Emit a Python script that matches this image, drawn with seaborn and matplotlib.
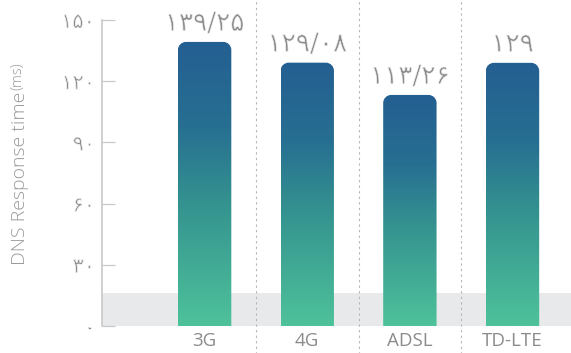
import numpy as np
import seaborn as sns
import matplotlib.pyplot as plt
import matplotlib.patheffects as pe
from matplotlib.path import Path
from matplotlib.patches import PathPatch
from matplotlib.colors import LinearSegmentedColormap

categories = ['3G', '4G', 'ADSL', 'TD-LTE']
response_ms = [139.25, 129.08, 113.26, 129.0]
value_labels = ['۱۳۹/۲۵', '۱۲۹/۰۸', '۱۱۳/۲۶', '۱۲۹']
y_ticks = [0, 30, 60, 90, 120, 150]
y_tick_labels = ['۰', '۳۰', '۶۰', '۹۰', '۱۲۰', '۱۵۰']
band_top = 16

GRAY = '#8c8c8c'
# thin the heavy DejaVu digits a bit
thin = [pe.Normal(), pe.Stroke(linewidth=0.5, foreground='white')]

sns.set_theme(style='white')
plt.rcParams['font.family'] = ['Open Sans', 'DejaVu Sans']

fig = plt.figure(figsize=(5.71, 3.53), dpi=100)
ax = fig.add_axes([102 / 571, 27 / 353, 1 - 102 / 571, 306 / 353])

sns.barplot(x=categories, y=response_ms, width=0.52, ax=ax)
ax.set_xlim(-1.0, 3.57)
ax.set_ylim(0, 150)

# gray band at the bottom
ax.axhspan(0, band_top, color='#e8e9eb', zorder=0, lw=0)

cmap = LinearSegmentedColormap.from_list(
    'bars', [(0, '#4ec29a'), (0.45, '#33908f'), (0.7, '#276f92'), (1, '#245f91')])


def rounded_top(x0, x1, y0, y1, rx, ry):
    k = 0.5523
    verts = [(x0, y0), (x0, y1 - ry),
             (x0, y1 - ry + k * ry), (x0 + rx - k * rx, y1), (x0 + rx, y1),
             (x1 - rx, y1),
             (x1 - rx + k * rx, y1), (x1, y1 - ry + k * ry), (x1, y1 - ry),
             (x1, y0), (x0, y0)]
    codes = [Path.MOVETO, Path.LINETO,
             Path.CURVE4, Path.CURVE4, Path.CURVE4,
             Path.LINETO,
             Path.CURVE4, Path.CURVE4, Path.CURVE4,
             Path.LINETO, Path.CLOSEPOLY]
    return Path(verts, codes)


# radius of about 8 px in data units
rx = 8 / 102.5
ry = 8 * 150 / 306
grad = np.linspace(0, 1, 256).reshape(-1, 1)

for bar, lab in zip(ax.patches, value_labels):
    x0 = bar.get_x()
    x1 = x0 + bar.get_width()
    h = bar.get_height()
    bar.set_visible(False)
    clip = PathPatch(rounded_top(x0, x1, 0, h, rx, ry), fc='none', ec='none',
                     transform=ax.transData)
    ax.add_patch(clip)
    im = ax.imshow(grad, extent=(x0, x1, 0, h), origin='lower', cmap=cmap,
                   aspect='auto', zorder=2)
    im.set_clip_path(clip)
    ax.text((x0 + x1) / 2, h + 2.5, lab, ha='center', va='bottom',
            fontsize=19, color=GRAY, family=['DejaVu Sans'], path_effects=thin)

ax.set_xlim(-1.0, 3.57)
ax.set_ylim(0, 150)

# dashed separators between categories
for xs in [0.5, 1.5, 2.5]:
    ax.axvline(xs, ymin=-0.09, ymax=1.07, color='#b4b4b4', lw=0.8,
               ls=(0, (2, 3)), clip_on=False, zorder=1)

for side in ['top', 'right', 'bottom']:
    ax.spines[side].set_visible(False)
ax.spines['left'].set_color('#c8c8c8')
ax.spines['left'].set_linewidth(1.2)

ax.set_yticks(y_ticks)
ax.set_yticklabels(y_tick_labels, family=['DejaVu Sans'], path_effects=thin)
ax.tick_params(axis='y', direction='in', length=9.5, width=0.9, color='#c8c8c8',
               left=True, labelsize=15, labelcolor=GRAY, pad=5)
ax.tick_params(axis='x', length=0, labelsize=13.5, labelcolor=GRAY, pad=4)
ax.set_ylabel('')

# y label: main part plus a smaller "(ms)"
lab_main = fig.text(20 / 571, 88 / 353, 'DNS Response time', rotation=90,
                    ha='center', va='bottom', fontsize=14, color='#9a9a9a',
                    fontweight='light')
fig.canvas.draw()
bb = lab_main.get_window_extent().transformed(fig.transFigure.inverted())
fig.text(20 / 571 - 0.004, bb.y1 + 0.004, '(ms)', rotation=90, ha='center',
         va='bottom', fontsize=10.5, color='#9a9a9a', fontweight='light')

fig.savefig('out.png', dpi=100)
